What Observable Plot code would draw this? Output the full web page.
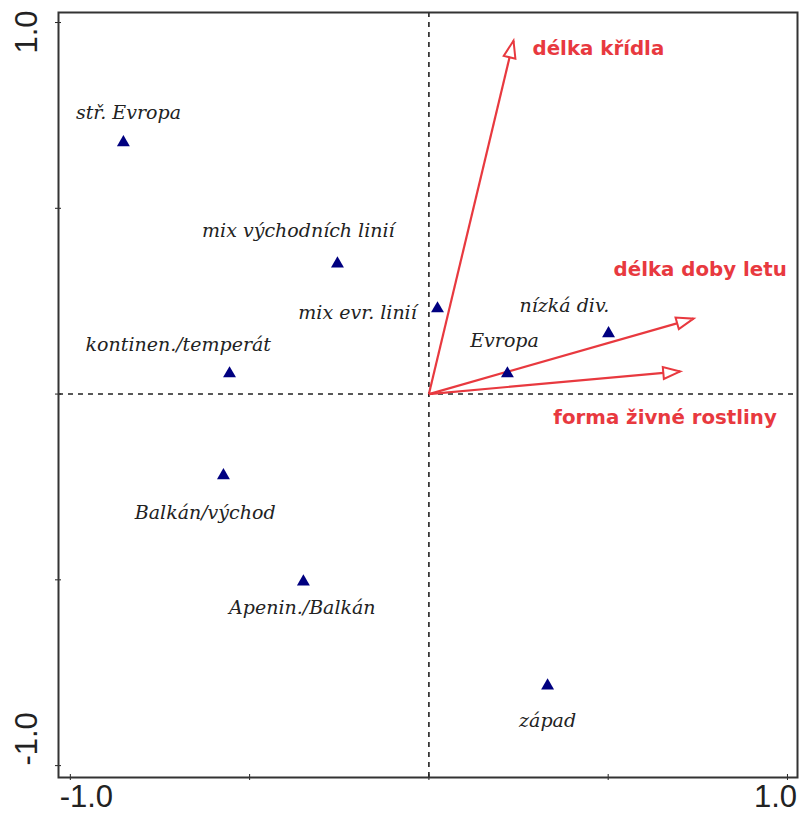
<!DOCTYPE html>
<html>
<head>
<meta charset="utf-8">
<script src="https://cdn.jsdelivr.net/npm/d3@7"></script>
<script src="https://cdn.jsdelivr.net/npm/@observablehq/plot@0.6"></script>
<style>
  html, body { margin: 0; padding: 0; background: #fff; }
  #chart svg { display: block; background: #fff; }
</style>
</head>
<body>
<div id="chart"></div>
<script>
// ---- data ----
const categories = ["stř. Evropa", "mix východních linií", "mix evr. linií", "kontinen./temperát", "Evropa", "nízká div.", "Balkán/východ", "Apenin./Balkán", "západ"];
const catAxis1 = [-0.852, -0.255, 0.024, -0.556, 0.219, 0.501, -0.573, -0.350, 0.331];
const catAxis2 = [0.677, 0.351, 0.230, 0.055, 0.055, 0.163, -0.219, -0.505, -0.785];
const catLabelAxis1 = [-0.838, -0.364, -0.199, -0.699, 0.211, 0.378, -0.624, -0.353, 0.331];
const catLabelAxis2 = [0.758, 0.440, 0.219, 0.133, 0.144, 0.238, -0.319, -0.575, -0.879];

const variables = ["délka křídla", "délka doby letu", "forma živné rostliny"];
const varAxis1 = [0.236, 0.738, 0.701];
const varAxis2 = [0.951, 0.203, 0.061];
const varLabelAxis1 = [0.289, 0.515, 0.347];
const varLabelAxis2 = [0.930, 0.335, -0.063];

const tickValues = [-1, -0.5, 0, 0.5, 1];
const labeledTicks = [-1, 1];

// ---- layout ----
const W = 800, H = 823;
const mL = 58, mR = 3, mT = 12, mB = 46;
const xDomain = [-1.033, 1.028];
const yDomain = [-1.032, 1.027];
const red = "#e8393f";
const navy = "#000080";

const points = categories.map((name, i) => ({name, x: catAxis1[i], y: catAxis2[i], lx: catLabelAxis1[i], ly: catLabelAxis2[i]}));
const vectors = variables.map((name, i) => ({name, x: varAxis1[i], y: varAxis2[i], lx: varLabelAxis1[i], ly: varLabelAxis2[i]}));

// pixel scales to orient the arrow heads
const sx = Plot.scale({x: {domain: xDomain, range: [mL, W - mR]}});
const sy = Plot.scale({y: {domain: yDomain, range: [H - mB, mT]}});
vectors.forEach(v => {
  const dx = sx.apply(v.x) - sx.apply(0);
  const dy = sy.apply(v.y) - sy.apply(0);
  v.angle = Math.atan2(dx, -dy) * 180 / Math.PI;
});

// open arrow head, tip at origin, pointing up
const headSymbol = {
  draw(context, size) {
    context.moveTo(0, 0);
    context.lineTo(6, 17);
    context.lineTo(-6, 17);
    context.closePath();
  }
};

const serif = "'DejaVu Serif', 'Liberation Serif', serif";
const sans = "'Liberation Sans', Arial, sans-serif";
const boldSans = "'DejaVu Sans', Verdana, sans-serif";

const chart = Plot.plot({
  width: W,
  height: H,
  marginLeft: mL,
  marginRight: mR,
  marginTop: mT,
  marginBottom: mB,
  x: {domain: xDomain, axis: null},
  y: {domain: yDomain, axis: null},
  marks: [
    Plot.ruleX([0], {stroke: "#222", strokeWidth: 1.6, strokeDasharray: "5,5"}),
    Plot.ruleY([0], {stroke: "#222", strokeWidth: 1.6, strokeDasharray: "5,5"}),
    // ticks crossing the frame
    Plot.axisX(tickValues, {anchor: "bottom", tickSize: 6, dy: -3, tickFormat: () => "", label: null, stroke: "#222"}),
    Plot.axisY(tickValues, {anchor: "left", tickSize: 6, dx: 3, tickFormat: () => "", label: null, stroke: "#222"}),
    Plot.frame({stroke: "#333", strokeWidth: 2}),
    // tick labels
    Plot.text([labeledTicks[0]], {x: d => d, frameAnchor: "bottom", dy: 29, dx: 16, text: d => d.toFixed(1), fontSize: 31, fontFamily: sans, fill: "#222"}),
    Plot.text([labeledTicks[1]], {x: d => d, frameAnchor: "bottom", dy: 29, dx: -12, text: d => d.toFixed(1), fontSize: 31, fontFamily: sans, fill: "#222"}),
    Plot.text([labeledTicks[1]], {y: d => d, frameAnchor: "left", dx: -31, dy: 31, rotate: -90, text: d => d.toFixed(1), fontSize: 31, fontFamily: sans, fill: "#222"}),
    Plot.text([labeledTicks[0]], {y: d => d, frameAnchor: "left", dx: -31, dy: 0, rotate: -90, text: d => d.toFixed(1), fontSize: 31, fontFamily: sans, fill: "#222"}),
    // vectors
    Plot.link(vectors, {x1: 0, y1: 0, x2: "x", y2: "y", stroke: red, strokeWidth: 2.2}),
    Plot.dot(vectors, {x: "x", y: "y", symbol: headSymbol, rotate: "angle", fill: "white", stroke: red, strokeWidth: 2}),
    Plot.text(vectors, {x: "lx", y: "ly", text: "name", textAnchor: "start", fill: red, fontSize: 19.8, fontWeight: "bold", fontFamily: boldSans}),
    // category points
    Plot.dot(points, {x: "x", y: "y", symbol: "triangle", r: 4.8, fill: navy, stroke: "none"}),
    Plot.text(points, {x: "lx", y: "ly", text: "name", fill: "#222", fontSize: 19, fontStyle: "italic", fontFamily: serif})
  ]
});

document.getElementById("chart").appendChild(chart);
</script>
</body>
</html>
